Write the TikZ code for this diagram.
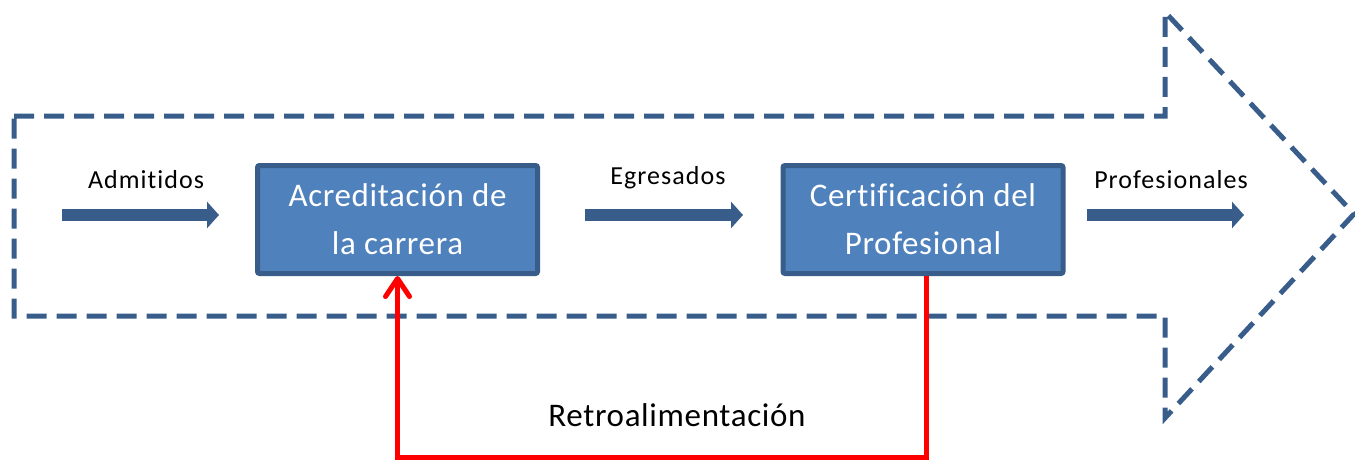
\documentclass[tikz,border=0pt]{standalone}
\usepackage{fontspec}
\setmainfont[Ligatures=NoCommon]{Carlito}
\usetikzlibrary{arrows.meta}
\definecolor{dblue}{HTML}{385D8A}
\definecolor{mblue}{HTML}{4F81BD}
\definecolor{fbred}{HTML}{FF0000}
\begin{document}
\begin{tikzpicture}[x=1pt,y=-1pt,
  outline/.style={draw=dblue, line width=5pt, dash pattern=on 20pt off 10pt},
  box/.style={draw=dblue, fill=mblue, line width=5pt, rounded corners=2pt,
    minimum width=280pt, minimum height=108pt, align=center, text=white,
    font=\fontsize{33}{48}\selectfont\addfontfeatures{LetterSpace=2}, inner sep=0pt},
  flow/.style={draw=dblue, line width=12pt, -{Triangle[length=12pt,width=26pt]}},
  lbl/.style={font=\fontsize{26}{30}\selectfont\addfontfeatures{LetterSpace=4}, text=black},
  fb/.style={draw=fbred, line width=5pt, -{Straight Barb[length=18pt,width=24pt,round]}}
]
\useasboundingbox (0,0) rectangle (1355,460);
\draw[outline] (14,116) -- (1165,116) -- (1165,12) -- (1354,214) -- (1165,418) -- (1165,316) -- (14,316) -- cycle;

\node[box] (acr) at (397.5,219.5) {Acreditación de\\la carrera};
\node[box] (cert) at (923,219.5) {Certificación del\\Profesional};

\coordinate (a1s) at (62,215);
\coordinate (a1e) at (219,215);
\coordinate (a2s) at (585,215);
\coordinate (a2e) at (743,215);
\coordinate (a3s) at (1087,215);
\coordinate (a3e) at (1244,215);
\draw[flow] (a1s) -- (a1e);
\draw[flow] (a2s) -- (a2e);
\draw[flow] (a3s) -- (a3e);

\node[lbl] (l1) at (146,180) {Admitidos};
\node[lbl] (l2) at (668,178) {Egresados};
\node[lbl] (l3) at (1171,180) {Profesionales};

\draw[fb] ([xshift=3pt]cert.south) -- ++(0,181) -| (acr.south);
\node[font=\fontsize{33}{38}\selectfont\addfontfeatures{LetterSpace=2}] (retro) at (677,415) {Retroalimentación};
\end{tikzpicture}
\end{document}
